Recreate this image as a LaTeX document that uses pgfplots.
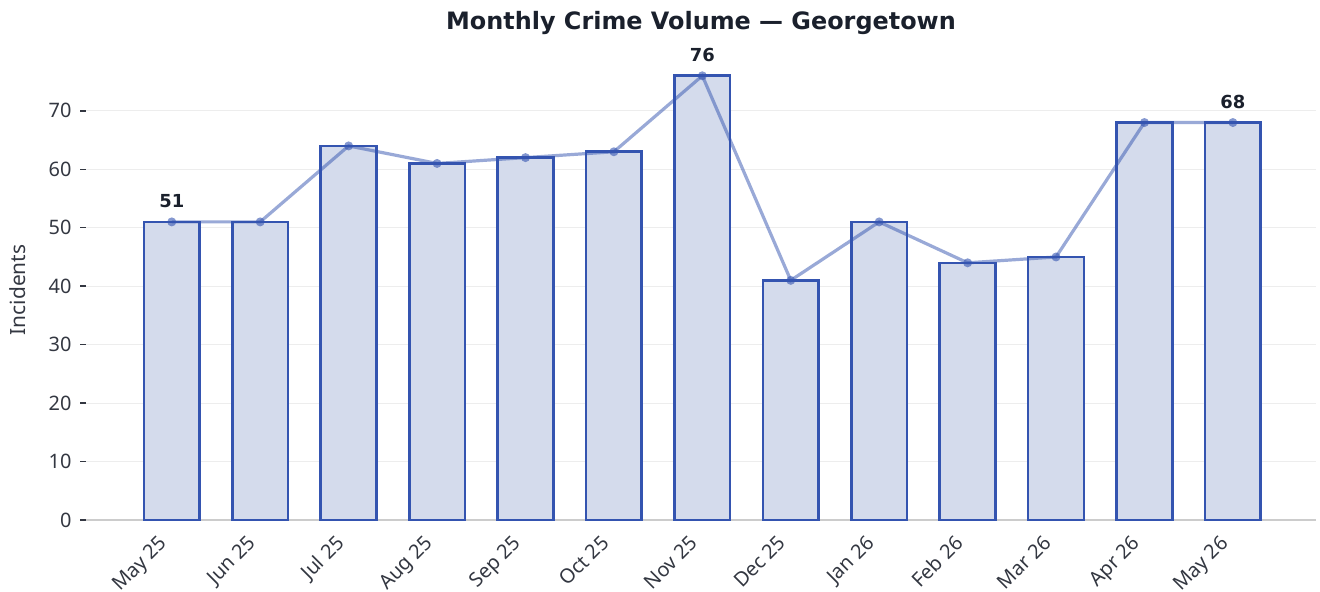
\documentclass[border=0pt]{standalone}
\usepackage{fontspec}
\setmainfont{Noto Sans}
\newfontfamily\dejavu{DejaVu Sans}
\usepackage{pgfplots}
\pgfplotsset{compat=1.18}
\definecolor{barc}{RGB}{52,84,176}
\definecolor{barf}{RGB}{212,219,236}
\definecolor{titlec}{RGB}{26,32,44}
\definecolor{tickc}{RGB}{51,55,65}
\begin{document}
\begin{tikzpicture}[x=1bp,y=1bp]
\useasboundingbox (0,0) rectangle (1320,592);
\begin{axis}[
  at={(86bp,72bp)}, anchor=south west,
  width=1230bp, height=460bp, scale only axis,
  xmin=-0.97, xmax=12.94, ymin=0, ymax=78.7,
  axis x line*=bottom, axis y line*=left,
  y axis line style={draw=none},
  x axis line style={color=black!20, line width=1.5bp},
  ytick={0,10,...,70},
  xtick={0,...,12},
  xticklabels={May 25,Jun 25,Jul 25,Aug 25,Sep 25,Oct 25,Nov 25,Dec 25,Jan 26,Feb 26,Mar 26,Apr 26,May 26},
  xtick style={draw=none},
  ytick style={color=tickc, line width=1.5bp},
  major tick length=6bp, tick align=outside,
  ymajorgrids, grid style={color=black!7, line width=1bp},
  /pgf/number format/assume math mode=true,
  ticklabel style={font=\fontsize{20}{23}\selectfont, color=tickc},
  xticklabel style={rotate=45, anchor=north east, xshift=-12bp, yshift=7.8bp},
  yticklabel style={xshift=-5bp},
  ylabel={Incidents},
  every axis y label/.style={at={(axis description cs:-0.0553,0.5)}, rotate=90, anchor=center, font=\fontsize{21}{24}\selectfont, color=tickc},
  clip=false,
]
\addplot[ybar, bar width=0.63, draw=barc, fill=barf, line width=2.6bp] coordinates {
(0,51) (1,51) (2,64) (3,61) (4,62) (5,63) (6,76) (7,41) (8,51) (9,44) (10,45) (11,68) (12,68)};
\addplot[color=barc, draw opacity=0.5, line width=3.2bp, mark=*, mark size=4.5bp, mark options={fill=barc, fill opacity=0.6, draw opacity=0}] coordinates {
(0,51) (1,51) (2,64) (3,61) (4,62) (5,63) (6,76) (7,41) (8,51) (9,44) (10,45) (11,68) (12,68)};
\addplot[draw=none, mark=none, nodes near coords, every node near coord/.style={anchor=center, yshift=21bp, font=\dejavu\bfseries\fontsize{18}{21}\selectfont, color=titlec}] coordinates {(0,51) (6,76) (12,68)};
\end{axis}
\node[font=\dejavu\bfseries\fontsize{24}{28}\selectfont, color=titlec] at (701,569) {Monthly Crime Volume — Georgetown};
\end{tikzpicture}
\end{document}
